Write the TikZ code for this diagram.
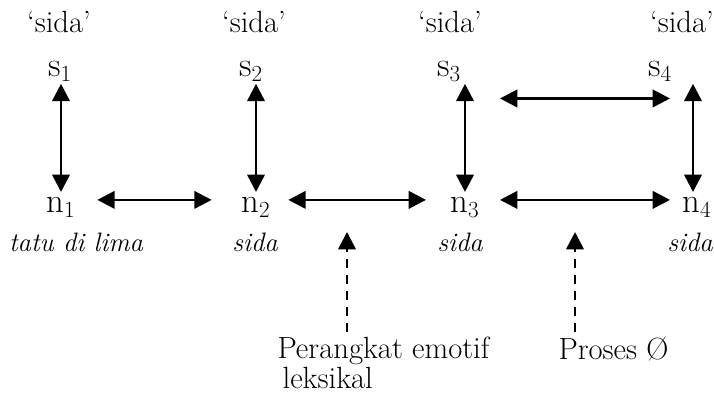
\documentclass[tikz,border=0pt]{standalone}
\usepackage{tikz}
\usetikzlibrary{arrows.meta}
\tikzset{every picture/.style={line width=0.75pt}}
\tikzset{
  lbl/.style={inner sep=0pt, anchor=base, font=\fontsize{23}{27}\selectfont},
  word/.style={inner sep=0pt, anchor=base, font=\fontsize{20}{24}\selectfont\itshape},
  sym/.style={inner sep=0pt, anchor=base, font=\fontsize{26}{30}\selectfont},
  dbl/.style={{Triangle[length=13pt,width=13pt]}-{Triangle[length=13pt,width=13pt]}, line width=2pt},
  dsh/.style={-{Triangle[length=13pt,width=13pt]}, line width=2pt, dash pattern=on 7pt off 5pt},
}
\begin{document}
\begin{tikzpicture}[x=0.75pt,y=-0.75pt]
\useasboundingbox (0,0) rectangle (714,398);
% top glosses
\node[lbl] (q1) at (59,33) {`sida'};
\node[lbl] (q2) at (254,33) {`sida'};
\node[lbl] (q3) at (450,33) {`sida'};
\node[lbl] (q4) at (682,33) {`sida'};
%
\node[sym] (s1) at (60,77) {s$_1$};
\node[sym] (s2) at (251,77) {s$_2$};
\node[sym] (s3) at (449,77) {s$_3$};
\node[sym] (s4) at (660,77) {s$_4$};
%
\node[sym] (n1) at (61,213) {n$_1$};
\node[sym] (n2) at (256,213) {n$_2$};
\node[sym] (n3) at (465,213) {n$_3$};
\node[sym] (n4) at (697,213) {n$_4$};
%
\node[word] (w1) at (76,252) {tatu di lima};
\node[word] (w2) at (255,252) {sida};
\node[word] (w3) at (460,252) {sida};
\node[word] (w4) at (690,252) {sida};
%
\node[lbl, align=left, anchor=north west] (pe) at (277,336) {Perangkat emotif\\[-4pt] \,leksikal};
\node[lbl, anchor=north west] (pr) at (558,336) {Proses \O};
%
\draw[dbl, shorten <=1pt, shorten >=4pt] (s1.south -| n1) -- (n1.north);
\draw[dbl, shorten <=1pt, shorten >=4pt] (s2.south -| n2) -- (n2.north);
\draw[dbl, shorten <=1pt, shorten >=4pt] (s3.south -| n3) -- (n3.north);
\draw[dbl, shorten <=1pt, shorten >=4pt] ([xshift=-3pt]s3.south -| n4) -- ([xshift=-3pt]n4.north);
%
\draw[dbl] ([xshift=16pt,yshift=6pt]n1.east) -- ([xshift=-22pt,yshift=6pt]n2.west);
\draw[dbl] ([xshift=13pt,yshift=6pt]n2.east) -- ([xshift=-18pt,yshift=6pt]n3.west);
\draw[dbl] ([xshift=15pt,yshift=6pt]n3.east) -- ([xshift=-9pt,yshift=6pt]n4.west);
\draw[dbl] ([xshift=15pt,yshift=-12pt]n3.east |- s3.south) -- ([xshift=-9pt,yshift=-12pt]n4.west |- s4.south);
%
\coordinate (t1) at (347,232);
\coordinate (t2) at (575,232);
\draw[dsh] (t1 |- pe.north) ++(0,-4) -- (t1);
\draw[dsh] (t2 |- pr.north) ++(0,-4) -- (t2);
\end{tikzpicture}
\end{document}
